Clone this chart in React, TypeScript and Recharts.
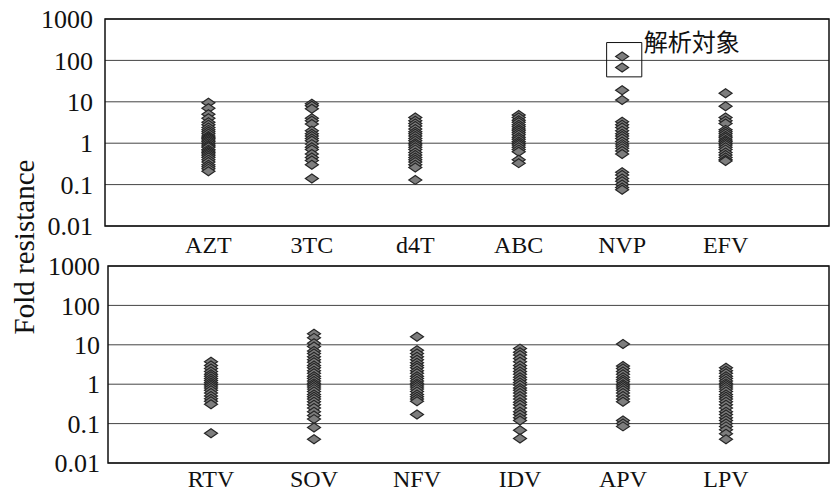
import React from 'react';
import {
  ScatterChart, Scatter, XAxis, YAxis, CartesianGrid, ReferenceArea, Label,
} from 'recharts';

const topCategories = ['AZT', '3TC', 'd4T', 'ABC', 'NVP', 'EFV'];
const bottomCategories = ['RTV', 'SOV', 'NFV', 'IDV', 'APV', 'LPV'];
const yTicks = [0.01, 0.1, 1, 10, 100, 1000];
const xTicks = [1, 2, 3, 4, 5, 6];

const azt = [9.5, 7, 5, 4, 3.2, 2.8, 2.4, 2.1, 1.9, 1.7, 1.5, 1.4, 1.3, 1.2, 1.1, 1.0, 0.9, 0.85, 0.8, 0.7, 0.65, 0.6, 0.55, 0.5, 0.45, 0.4, 0.35, 0.3, 0.27, 0.24, 0.21];
const tc3 = [9, 8, 6.8, 4, 3.5, 2.9, 2.0, 1.7, 1.5, 1.3, 1.15, 0.95, 0.8, 0.7, 0.55, 0.45, 0.38, 0.3, 0.14];
const d4t = [4.2, 3.5, 3, 2.6, 2.2, 1.9, 1.7, 1.5, 1.3, 1.15, 1.0, 0.9, 0.8, 0.7, 0.6, 0.52, 0.45, 0.4, 0.35, 0.3, 0.26, 0.13];
const abc = [4.8, 4.2, 3.6, 3.2, 2.8, 2.5, 2.2, 2, 1.8, 1.6, 1.4, 1.25, 1.1, 1.0, 0.9, 0.8, 0.7, 0.62, 0.4, 0.33];
const nvp = [125, 67, 19, 11, 3.3, 2.8, 2.4, 2, 1.7, 1.5, 1.3, 1.1, 0.95, 0.85, 0.75, 0.65, 0.55, 0.2, 0.17, 0.14, 0.12, 0.1, 0.085, 0.075];
const efv = [16, 7.8, 4.2, 3.5, 3, 2.1, 1.9, 1.7, 1.5, 1.35, 1.2, 1.1, 1.0, 0.9, 0.8, 0.7, 0.6, 0.52, 0.45, 0.4, 0.37];

const rtv = [3.7, 3.0, 2.5, 2.1, 1.8, 1.6, 1.4, 1.25, 1.1, 1.0, 0.9, 0.8, 0.7, 0.6, 0.5, 0.43, 0.37, 0.31, 0.057];
const sov = [19, 15, 11, 9, 7, 6, 5, 4.2, 3.6, 3, 2.6, 2.2, 1.9, 1.6, 1.4, 1.2, 1.05, 0.95, 0.85, 0.75, 0.65, 0.55, 0.48, 0.42, 0.36, 0.3, 0.25, 0.2, 0.16, 0.13, 0.08, 0.04];
const nfv = [16, 7.3, 6, 5, 4.2, 3.5, 3, 2.6, 2.2, 1.9, 1.6, 1.4, 1.2, 1.05, 0.95, 0.85, 0.75, 0.65, 0.55, 0.48, 0.42, 0.37, 0.17];
const idv = [8, 6.5, 5.5, 4.5, 3.7, 3, 2.5, 2.1, 1.8, 1.5, 1.3, 1.1, 0.95, 0.8, 0.7, 0.6, 0.5, 0.42, 0.35, 0.3, 0.25, 0.2, 0.17, 0.14, 0.12, 0.068, 0.042];
const apv = [10.5, 2.9, 2.5, 2.1, 1.8, 1.5, 1.3, 1.15, 1.0, 0.9, 0.8, 0.7, 0.6, 0.5, 0.42, 0.36, 0.12, 0.1, 0.085];
const lpv = [2.6, 2.2, 1.9, 1.6, 1.4, 1.2, 1.05, 0.95, 0.85, 0.75, 0.65, 0.55, 0.48, 0.42, 0.36, 0.3, 0.25, 0.2, 0.17, 0.14, 0.12, 0.1, 0.085, 0.07, 0.055, 0.04];

const topSeries = [azt, tc3, d4t, abc, nvp, efv];
const bottomSeries = [rtv, sov, nfv, idv, apv, lpv];

const toPoints = (series: number[][]) =>
  series.flatMap((vals, i) => vals.map((v) => ({ x: i + 1, y: v })));

const SERIF = '"Liberation Serif", "Times New Roman", serif';

const Diamond = (props: any) => {
  const { cx, cy } = props;
  if (cx == null || cy == null) return null;
  const w = 6.5;
  const h = 4.5;
  return (
    <polygon
      points={`${cx - w},${cy} ${cx},${cy - h} ${cx + w},${cy} ${cx},${cy + h}`}
      fill="#7d7d7d"
      stroke="#262626"
      strokeWidth={1.2}
    />
  );
};

const AnnoLabel = (props: any) => {
  const vb = props.viewBox;
  if (!vb) return null;
  return (
    <text
      x={vb.x + vb.width + 2}
      y={vb.y - 2}
      fontFamily='"Noto Sans CJK JP", sans-serif'
      fontSize={24}
      fill="#111"
      dominantBaseline="central"
    >
      解析対象
    </text>
  );
};

type PanelProps = {
  categories: string[];
  series: number[][];
  top: number;
  height: number;
  marginTop: number;
  xAxisHeight: number;
  yAxisWidth: number;
  yTickGap: number;
  xTickGap: number;
  annotate?: boolean;
};

const Panel = ({ categories, series, top, height, marginTop, xAxisHeight, yAxisWidth, yTickGap, xTickGap, annotate }: PanelProps) => (
  <div style={{ position: 'absolute', left: 0, top }}>
    <ScatterChart
      width={831}
      height={height}
      margin={{ top: marginTop, right: 2, left: 0, bottom: 0 }}
    >
      <CartesianGrid vertical={false} stroke="#444" strokeWidth={1} />
      <XAxis
        type="number"
        dataKey="x"
        domain={[0, 7]}
        ticks={xTicks}
        tickFormatter={(v: number) => categories[v - 1] ?? ''}
        axisLine={false}
        tickLine={false}
        tickSize={0}
        tickMargin={xTickGap}
        height={xAxisHeight}
        allowDataOverflow
        tick={{ fontFamily: SERIF, fontSize: 24, fill: '#111' }}
        interval={0}
      />
      <YAxis
        type="number"
        dataKey="y"
        scale="log"
        domain={[0.01, 1000]}
        ticks={yTicks}
        allowDataOverflow
        axisLine={false}
        tickLine={false}
        tickSize={0}
        tickMargin={yTickGap}
        width={yAxisWidth}
        interval={0}
        tick={{ fontFamily: SERIF, fontSize: 26, fill: '#111' }}
      />
      <ReferenceArea
        x1={0}
        x2={7}
        y1={0.01}
        y2={1000}
        fill="none"
        stroke="#111"
        strokeWidth={1.5}
        ifOverflow="visible"
      />
      <Scatter
        data={toPoints(series)}
        shape={Diamond}
        isAnimationActive={false}
      />
      {annotate && (
        <ReferenceArea
          x1={4.85}
          x2={5.19}
          y1={40}
          y2={270}
          fill="none"
          stroke="#111"
          strokeWidth={1}
          ifOverflow="visible"
        >
          <Label content={AnnoLabel} />
        </ReferenceArea>
      )}
    </ScatterChart>
  </div>
);

export default function App() {
  return (
    <div style={{ position: 'absolute', left: 0, top: 0, width: 831, height: 494, background: '#fff', overflow: 'hidden' }}>
      <Panel
        categories={topCategories}
        series={topSeries}
        top={0}
        height={262}
        marginTop={19}
        xAxisHeight={36}
        yAxisWidth={105}
        yTickGap={12}
        xTickGap={10}
        annotate
      />
      <Panel
        categories={bottomCategories}
        series={bottomSeries}
        top={240}
        height={254}
        marginTop={26}
        xAxisHeight={31}
        yAxisWidth={108}
        yTickGap={8}
        xTickGap={7}
      />
      <svg width={60} height={494} style={{ position: 'absolute', left: 0, top: 0 }}>
        <text
          x={24}
          y={247}
          transform="rotate(-90 24 247)"
          textAnchor="middle"
          dominantBaseline="central"
          fontFamily={SERIF}
          fontSize={29}
          fill="#111"
        >
          Fold resistance
        </text>
      </svg>
    </div>
  );
}
